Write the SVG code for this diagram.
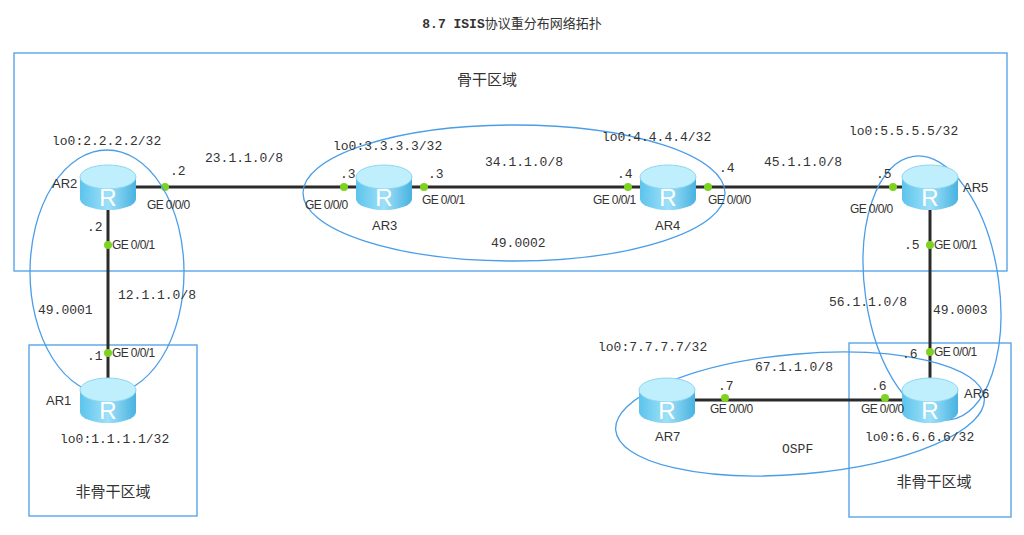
<svg xmlns="http://www.w3.org/2000/svg" width="1024" height="535" viewBox="0 0 1024 535">
<style>
.m{font-family:"Liberation Mono","DejaVu Sans Mono",monospace;font-size:13px;fill:#333}
.s{font-family:"Liberation Sans",Arial,sans-serif;font-size:12px;fill:#333;letter-spacing:-0.6px}
.n{font-family:"Liberation Sans",Arial,sans-serif;font-size:13px;fill:#333}
.c{font-family:"Noto Sans CJK SC",sans-serif;font-size:15px;fill:#333}
.b{fill:none;stroke:#4a9ee8;stroke-width:1.3}
.l{stroke:#2b2b2b;stroke-width:3}
.d{fill:#7ed321}
</style>
<defs>
<linearGradient id="g" x1="0" x2="1"><stop offset="0" stop-color="#5cc4ec"/><stop offset="0.5" stop-color="#9ee0f8"/><stop offset="1" stop-color="#48b2e0"/></linearGradient>
<g id="r">
<path d="M-28,-10 V12 A28,11 0 0 0 28,12 V-10 Z" fill="url(#g)"/>
<ellipse cx="0" cy="-10" rx="28" ry="12" fill="#bfeefc" stroke="#8fd6f0"/>
<text x="0" y="19" text-anchor="middle" font-family="Liberation Sans,sans-serif" font-size="24" fill="#fff">R</text>
</g>
</defs>
<text x="512" y="28" text-anchor="middle" class="m" font-size="14" font-weight="bold">8.7 ISIS<tspan font-family="Noto Sans CJK SC,sans-serif" font-weight="normal">协议重分布网络拓扑</tspan></text>
<rect class="b" x="14" y="53" width="993" height="218"/>
<rect class="b" x="29" y="345" width="168" height="171"/>
<rect class="b" x="849" y="343" width="162" height="174"/>
<text class="c" x="487" y="85" text-anchor="middle">骨干区域</text>
<text class="c" x="113" y="497" text-anchor="middle">非骨干区域</text>
<text class="c" x="934" y="487" text-anchor="middle">非骨干区域</text>
<g id="connectors">
<line class="l" x1="136" y1="187" x2="356" y2="187"/>
<line class="l" x1="412" y1="187" x2="640" y2="187"/>
<line class="l" x1="696" y1="187" x2="902" y2="187"/>
<line class="l" x1="108" y1="210" x2="108" y2="378"/>
<line class="l" x1="930" y1="210" x2="930" y2="378"/>
<line class="l" x1="695" y1="400" x2="902" y2="400"/>
<circle class="d" cx="165" cy="187" r="4"/><circle class="d" cx="344" cy="187" r="4"/>
<circle class="d" cx="424" cy="187" r="4"/><circle class="d" cx="628" cy="187" r="4"/>
<circle class="d" cx="708" cy="187" r="4"/><circle class="d" cx="893" cy="187" r="4"/>
<circle class="d" cx="108" cy="245" r="4"/><circle class="d" cx="108" cy="353" r="4"/>
<circle class="d" cx="930" cy="245" r="4"/><circle class="d" cx="930" cy="352" r="4"/>
<circle class="d" cx="725" cy="398" r="4"/><circle class="d" cx="885" cy="398" r="4"/>
</g>
<ellipse class="b" cx="107" cy="272" rx="77" ry="122"/>
<ellipse class="b" cx="514" cy="193" rx="211" ry="68"/>
<ellipse class="b" cx="932" cy="288" rx="67" ry="133" transform="rotate(-8 932 288)"/>
<ellipse class="b" cx="800" cy="414" rx="185" ry="60" transform="rotate(-5 800 414)"/>
<g id="AR2"><use href="#r" x="108" y="187"/><text class="n" x="52" y="188">AR2</text><text class="m" x="52" y="145">lo0:2.2.2.2/32</text></g>
<g id="AR3"><use href="#r" x="384" y="187"/><text class="n" x="372" y="230">AR3</text><text class="m" x="333" y="150">lo0:3.3.3.3/32</text></g>
<g id="AR4"><use href="#r" x="668" y="187"/><text class="n" x="655" y="230">AR4</text><text class="m" x="602" y="141">lo0:4.4.4.4/32</text></g>
<g id="AR5"><use href="#r" x="930" y="187"/><text class="n" x="963" y="192">AR5</text><text class="m" x="849" y="135">lo0:5.5.5.5/32</text></g>
<g id="AR1"><use href="#r" x="108" y="400"/><text class="n" x="46" y="405">AR1</text><text class="m" x="60" y="443">lo0:1.1.1.1/32</text></g>
<g id="AR7"><use href="#r" x="667" y="400"/><text class="n" x="655" y="441">AR7</text><text class="m" x="598" y="351">lo0:7.7.7.7/32</text></g>
<g id="AR6"><use href="#r" x="930" y="400"/><text class="n" x="964" y="398">AR6</text><text class="m" x="865" y="441">lo0:6.6.6.6/32</text></g>
<text class="m" x="205" y="162">23.1.1.0/8</text>
<text class="m" x="485" y="166">34.1.1.0/8</text>
<text class="m" x="764" y="166">45.1.1.0/8</text>
<text class="m" x="118" y="299">12.1.1.0/8</text>
<text class="m" x="829" y="306">56.1.1.0/8</text>
<text class="m" x="755" y="371">67.1.1.0/8</text>
<text class="m" x="38" y="314">49.0001</text>
<text class="m" x="491" y="247">49.0002</text>
<text class="m" x="933" y="314">49.0003</text>
<text class="m" x="782" y="453">OSPF</text>
<g class="m">
<text x="170" y="175">.2</text><text x="87" y="231">.2</text><text x="87" y="360">.1</text>
<text x="340" y="178">.3</text><text x="428" y="178">.3</text><text x="617" y="178">.4</text><text x="719" y="172">.4</text>
<text x="876" y="178">.5</text><text x="904" y="249">.5</text><text x="902" y="358">.6</text>
<text x="718" y="390">.7</text><text x="871" y="390">.6</text>
</g>
<g class="s">
<text x="147" y="209">GE 0/0/0</text><text x="112" y="249">GE 0/0/1</text><text x="112" y="357">GE 0/0/1</text>
<text x="305" y="209">GE 0/0/0</text><text x="422" y="204">GE 0/0/1</text><text x="593" y="204">GE 0/0/1</text><text x="708" y="204">GE 0/0/0</text>
<text x="850" y="213">GE 0/0/0</text><text x="934" y="249">GE 0/0/1</text><text x="934" y="356">GE 0/0/1</text>
<text x="710" y="413">GE 0/0/0</text><text x="861" y="413">GE 0/0/0</text>
</g>
</svg>
